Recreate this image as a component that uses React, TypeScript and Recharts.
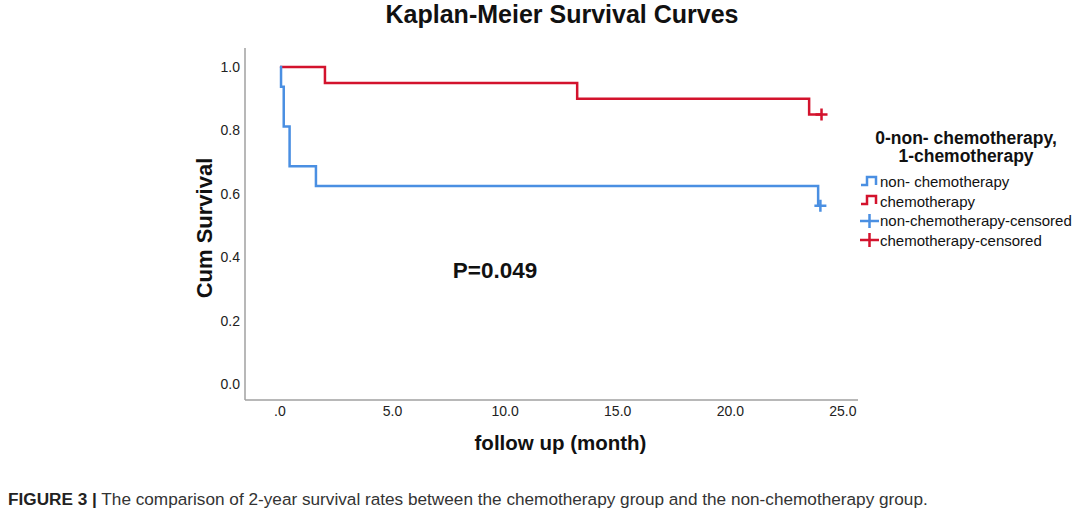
import React from "react";
import { ComposedChart, Line, Scatter, XAxis, YAxis, ReferenceDot } from "recharts";

// Kaplan-Meier step data (time in months, cumulative survival)
const nonChemoTimes = [0, 0.05, 0.17, 0.43, 1.6, 23.9, 24.0];
const nonChemoSurvival = [1.0, 0.9375, 0.8125, 0.6875, 0.625, 0.5625, 0.5625];
const chemoTimes = [0, 2.0, 13.2, 23.5, 24.05];
const chemoSurvival = [1.0, 0.95, 0.9, 0.85, 0.85];

const nonChemoCensorTimes = [24.0];
const nonChemoCensorSurvival = [0.5625];
const chemoCensorTimes = [24.05];
const chemoCensorSurvival = [0.85];

const xTicks = [0, 5, 10, 15, 20, 25];
const yTicks = [0, 0.2, 0.4, 0.6, 0.8, 1.0];

const legendTitle = ["0-non- chemotherapy,", "1-chemotherapy"];
const legendItems = [
  { label: "non- chemotherapy", kind: "step", color: "#4a8fe2" },
  { label: "chemotherapy", kind: "step", color: "#d3132d" },
  { label: "non-chemotherapy-censored", kind: "plus", color: "#4a8fe2" },
  { label: "chemotherapy-censored", kind: "plus", color: "#d3132d" },
];

const BLUE = "#4a8fe2";
const RED = "#d3132d";
const FONT = "'Liberation Sans', Arial, sans-serif";

const zip = (ts: number[], ss: number[]) => ts.map((t, i) => ({ t, s: ss[i] }));

const nonChemoData = zip(nonChemoTimes, nonChemoSurvival);
const chemoData = zip(chemoTimes, chemoSurvival);
const nonChemoCensor = zip(nonChemoCensorTimes, nonChemoCensorSurvival);
const chemoCensor = zip(chemoCensorTimes, chemoCensorSurvival);

const plusShape = (color: string) => (props: any) => {
  const { cx, cy } = props;
  return (
    <path
      d={`M${cx - 6},${cy} H${cx + 6} M${cx},${cy - 6} V${cy + 6}`}
      stroke={color}
      strokeWidth={2.5}
      fill="none"
    />
  );
};

const fmtX = (v: number) => (v === 0 ? ".0" : v.toFixed(1));
const fmtY = (v: number) => v.toFixed(1);

function LegendIcon({ kind, color }: { kind: string; color: string }) {
  return (
    <svg width={21} height={16} style={{ display: "block", flex: "none" }}>
      {kind === "step" ? (
        <path d="M2,11 H8 V3 H17 V11" stroke={color} strokeWidth={2.5} fill="none" />
      ) : (
        <path d="M1,8 H20 M10.5,1 V15" stroke={color} strokeWidth={2.5} fill="none" />
      )}
    </svg>
  );
}

export default function App() {
  return (
    <div style={{ position: "absolute", left: 0, top: 0, width: 1080, height: 516, background: "#fff", fontFamily: FONT }}>
      <div
        style={{
          position: "absolute",
          left: 0,
          width: 1124,
          top: 0,
          textAlign: "center",
          fontSize: 25,
          fontWeight: "bold",
          color: "#111",
        }}
      >
        Kaplan-Meier Survival Curves
      </div>
      <ComposedChart
        width={1080}
        height={516}
        margin={{ top: 48, right: 222, bottom: 86, left: 185 }}
        style={{ position: "absolute", left: 0, top: 0 }}
      >
        <XAxis
          dataKey="t"
          type="number"
          domain={[-1.55, 25.67]}
          ticks={xTicks}
          tickFormatter={fmtX}
          allowDataOverflow
          height={30}
          tickLine={false}
          tickSize={0}
          tickMargin={6}
          stroke="#a0a0a0"
          strokeWidth={1.5}
          tick={{ fill: "#222", fontSize: 14, fontFamily: FONT }}
          label={{
            value: "follow up (month)",
            position: "insideBottom",
            offset: -20,
            dx: 9,
            style: { fill: "#111", fontSize: 20.5, fontWeight: "bold", fontFamily: FONT },
          }}
        />
        <YAxis
          type="number"
          domain={[-0.05, 1.06]}
          ticks={yTicks}
          tickFormatter={fmtY}
          allowDataOverflow
          width={60}
          tickLine={false}
          tickSize={0}
          tickMargin={5}
          stroke="#a0a0a0"
          strokeWidth={1.5}
          tick={{ fill: "#222", fontSize: 14, fontFamily: FONT }}
          label={{
            value: "Cum Survival",
            angle: -90,
            position: "insideLeft",
            offset: 19,
            dy: 4,
            style: { fill: "#111", fontSize: 22, fontWeight: "bold", fontFamily: FONT, textAnchor: "middle" },
          }}
        />
        <Line
          data={chemoData}
          dataKey="s"
          type="stepAfter"
          stroke={RED}
          strokeWidth={2.5}
          dot={false}
          activeDot={false}
          isAnimationActive={false}
        />
        <Line
          data={nonChemoData}
          dataKey="s"
          type="stepAfter"
          stroke={BLUE}
          strokeWidth={2.5}
          dot={false}
          activeDot={false}
          isAnimationActive={false}
        />
        <Scatter data={nonChemoCensor} dataKey="s" shape={plusShape(BLUE)} isAnimationActive={false} />
        <Scatter data={chemoCensor} dataKey="s" shape={plusShape(RED)} isAnimationActive={false} />
        <ReferenceDot
          x={9.55}
          y={0.36}
          r={0}
          fill="none"
          stroke="none"
          label={{
            value: "P=0.049",
            position: "center",
            style: { fill: "#111", fontSize: 22.5, fontWeight: "bold", fontFamily: FONT },
          }}
        />
      </ComposedChart>
      <div style={{ position: "absolute", left: 866, top: 129, width: 200, color: "#111" }}>
        <div style={{ textAlign: "center", fontWeight: "bold", fontSize: 17.5, lineHeight: "18px" }}>
          {legendTitle.map((l) => (
            <div key={l}>{l}</div>
          ))}
        </div>
      </div>
      <div style={{ position: "absolute", left: 859, top: 172, color: "#111" }}>
        {legendItems.map((it) => (
          <div key={it.label} style={{ display: "flex", alignItems: "center", height: 19.5, fontSize: 15, whiteSpace: "nowrap" }}>
            <LegendIcon kind={it.kind} color={it.color} />
            <span>{it.label}</span>
          </div>
        ))}
      </div>
      <div
        style={{
          position: "absolute",
          left: 8,
          top: 489,
          fontSize: 17.2,
          fontFamily: FONT,
          color: "#333",
          whiteSpace: "nowrap",
        }}
      >
        <b style={{ color: "#222" }}>FIGURE 3 |</b> The comparison of 2-year survival rates between the chemotherapy group and the non-chemotherapy group.
      </div>
    </div>
  );
}
